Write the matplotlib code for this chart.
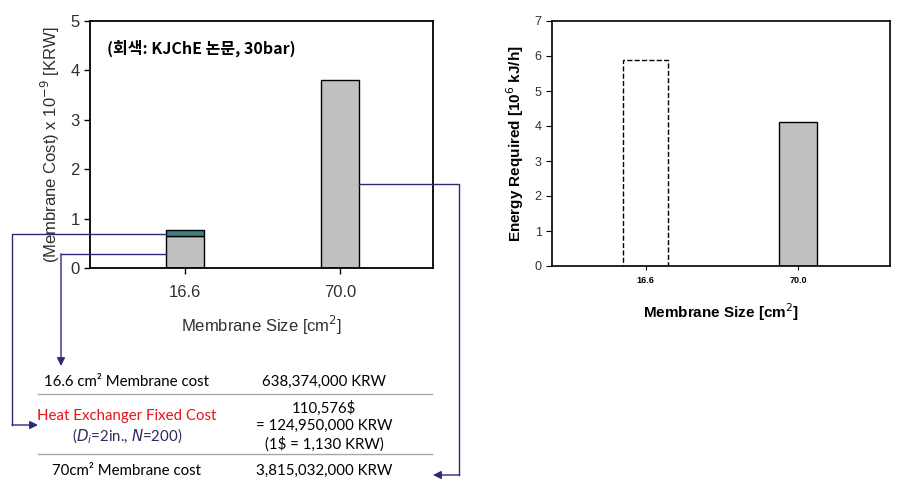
import matplotlib
matplotlib.use('Agg')
import matplotlib.pyplot as plt

# data
sizes = ['16.6', '70.0']
membrane_cost = [0.638, 3.815]      # (x 10^9 KRW)
hx_cost = [0.125, 0.0]              # heat exchanger fixed cost
energy = [5.88, 4.10]               # 10^6 kJ/h

row_left = ['16.6 cm² Membrane cost', 'Heat Exchanger Fixed Cost', '70cm² Membrane cost']
row_right = ['638,374,000 KRW', '110,576$\n= 124,950,000 KRW\n(1$ = 1,130 KRW)', '3,815,032,000 KRW']

W, H = 917, 499
fig = plt.figure(figsize=(W / 100, H / 100), dpi=100)
plt.rcParams['font.family'] = ['Liberation Sans', 'DejaVu Sans']

pos = [0, 1]
txt = '#303030'

# ---- left chart: membrane cost
ax1 = fig.add_axes([90 / W, 1 - 268 / H, 343 / W, 247 / H])
ax1.bar(pos, membrane_cost, width=0.245, color='#c0c0c0', edgecolor='black', linewidth=1)
ax1.bar(pos[:1], hx_cost[:1], bottom=membrane_cost[:1], width=0.245,
        color='#3f7f7f', edgecolor='black', linewidth=1)
ax1.set_xlim(-0.61, 1.6)
ax1.set_ylim(0, 5)
ax1.set_xticks(pos)
ax1.set_xticklabels(sizes)
ax1.set_yticks(range(6))
ax1.tick_params(axis='both', labelsize=12, labelcolor=txt, direction='out', length=4, width=1)
ax1.tick_params(axis='x', pad=8)
for s in ax1.spines.values():
    s.set_linewidth(1.3)
ax1.set_ylabel('(Membrane Cost) x 10$^{-9}$ [KRW]', fontsize=12, color=txt, labelpad=6)
ax1.set_xlabel('Membrane Size [cm$^2$]', fontsize=12, color=txt, labelpad=10)
ax1.text(0.05, 0.89, '(회색: KJChE 논문, 30bar)', transform=ax1.transAxes,
         fontsize=11.5, fontweight='bold', va='center',
         family=['Noto Sans CJK KR', 'DejaVu Sans'])

# ---- right chart: energy required
ax2 = fig.add_axes([552 / W, 1 - 266 / H, 338 / W, 245 / H])
ax2.bar(pos[0], energy[0], width=0.295, color='white', edgecolor='black',
        linewidth=1, linestyle='--')
ax2.bar(pos[1], energy[1], width=0.25, color='#c0c0c0', edgecolor='black', linewidth=1)
ax2.set_xlim(-0.613, 1.6)
ax2.set_ylim(0, 7)
ax2.set_xticks(pos)
ax2.set_xticklabels(sizes, fontsize=6.5, fontweight='bold')
ax2.set_yticks(range(8))
ax2.tick_params(axis='y', labelsize=9, labelcolor=txt, length=4)
ax2.tick_params(axis='x', length=3, pad=4)
for s in ax2.spines.values():
    s.set_linewidth(1.2)
ax2.set_ylabel('Energy Required [10$^6$ kJ/h]', fontsize=11, fontweight='bold', labelpad=6)
ax2.set_xlabel('Membrane Size [cm$^2$]', fontsize=11, fontweight='bold', labelpad=12)

# ---- overlay in pixel coordinates for the table and connectors
ov = fig.add_axes([0, 0, 1, 1], zorder=5)
ov.set_xlim(0, W)
ov.set_ylim(H, 0)
ov.axis('off')
ov.patch.set_alpha(0)

def px(ax, x, y):
    return ov.transData.inverted().transform(ax.transData.transform((x, y)))

tfont = ['Lato', 'DejaVu Sans']
fs = 10.8
navy = '#2e2a78'
ov.text(127, 382, row_left[0], ha='center', va='center', fontsize=fs, family=tfont)
ov.text(127, 416, row_left[1], ha='center', va='center', fontsize=fs, family=tfont, color='#e8141c')
ov.text(127, 436, '($D_i$=2in., $N$=200)', ha='center', va='center', fontsize=fs,
        family=tfont, color='#2b2a5e')
ov.text(127, 471, row_left[2], ha='center', va='center', fontsize=fs, family=tfont)
ov.text(324, 382, row_right[0], ha='center', va='center', fontsize=fs, family=tfont)
ov.text(324, 426, row_right[1], ha='center', va='center', fontsize=fs, family=tfont,
        linespacing=1.3, parse_math=False)
ov.text(324, 471, row_right[2], ha='center', va='center', fontsize=fs, family=tfont)
for yy in (394, 454):
    ov.plot([38, 432], [yy, yy], color='#a8a8a8', lw=1)

# connectors from bars
x1, y1 = px(ax1, pos[0] - 0.1225, membrane_cost[0] + hx_cost[0] * 0.45)
ov.plot([x1, 12, 12], [y1, y1, 425], color=navy, lw=1)
ov.annotate('', xy=(38, 425), xytext=(12, 425),
            arrowprops=dict(arrowstyle='-|>', color=navy, lw=1, mutation_scale=12, shrinkA=0, shrinkB=0))

x2, y2 = px(ax1, pos[0] - 0.1225, membrane_cost[0] * 0.45)
ov.plot([x2, 61], [y2, y2], color=navy, lw=1)
ov.annotate('', xy=(61, 366), xytext=(61, y2),
            arrowprops=dict(arrowstyle='-|>', color=navy, lw=1, mutation_scale=12, shrinkA=0, shrinkB=0))

x3, y3 = px(ax1, pos[1] + 0.1225, membrane_cost[1] * 0.445)
ov.plot([x3, 459, 459], [y3, y3, 475], color=navy, lw=1)
ov.annotate('', xy=(433, 475), xytext=(459, 475),
            arrowprops=dict(arrowstyle='-|>', color=navy, lw=1, mutation_scale=12, shrinkA=0, shrinkB=0))

fig.savefig('out.png', dpi=100)
